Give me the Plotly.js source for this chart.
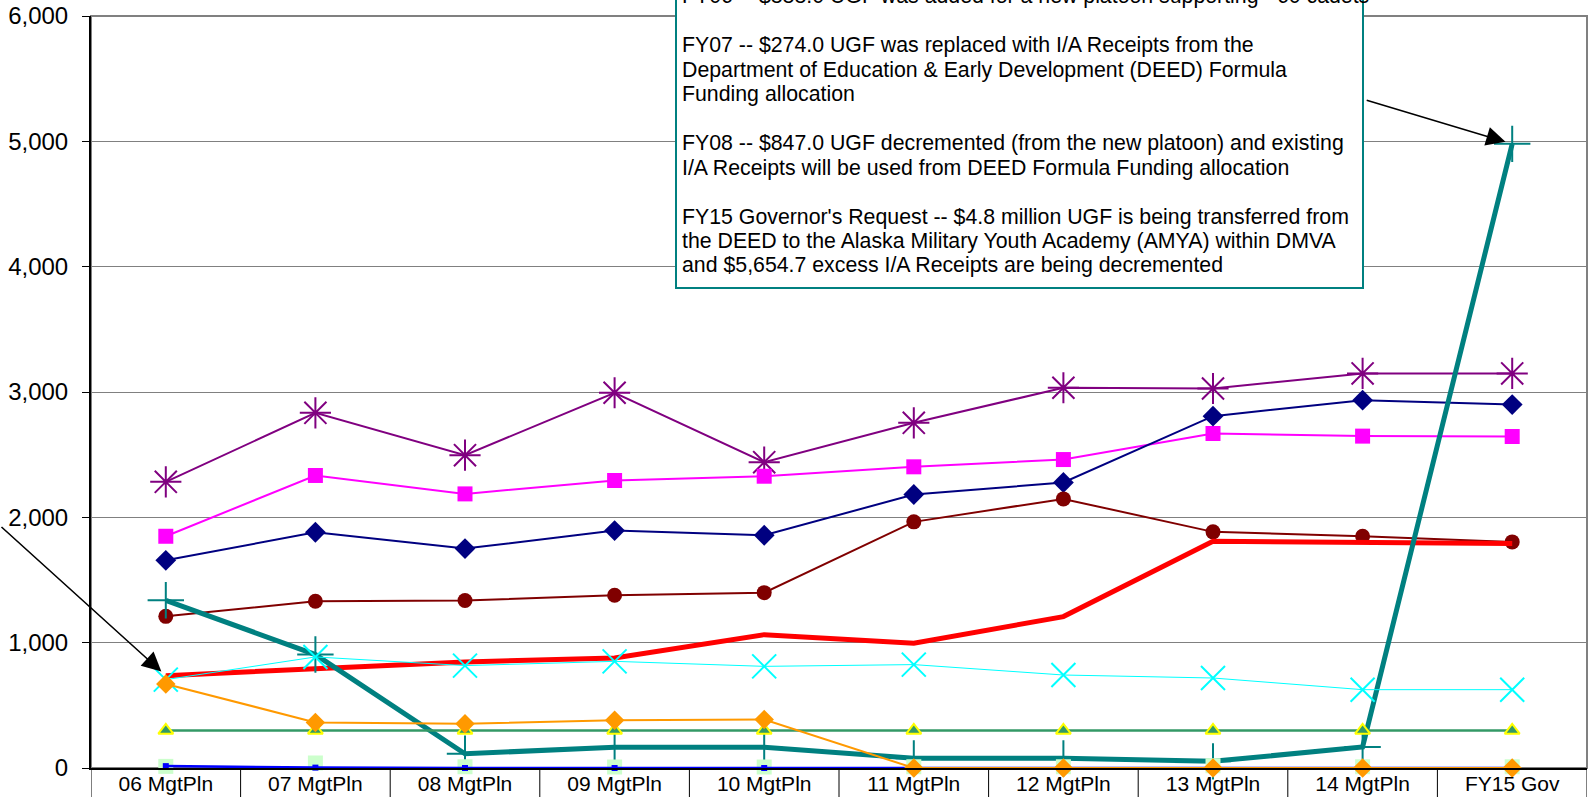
<!DOCTYPE html>
<html><head><meta charset="utf-8">
<script src="https://cdn.plot.ly/plotly-3.0.1.min.js"></script>
<style>html,body{margin:0;padding:0;background:#fff;overflow:hidden}#chart{width:1591px;height:797px}</style>
</head><body><div id="chart"></div><script>
const categories = ['06 MgtPln','07 MgtPln','08 MgtPln','09 MgtPln','10 MgtPln','11 MgtPln','12 MgtPln','13 MgtPln','14 MgtPln','FY15 Gov'];
const seriesPurple   = [2283, 2834, 2496, 2994, 2440, 2754, 3034, 3028, 3148, 3148];
const seriesMagenta  = [1849, 2334, 2187, 2294, 2328, 2403, 2461, 2669, 2648, 2645];
const seriesNavy     = [1657, 1881, 1751, 1894, 1857, 2182, 2278, 2807, 2935, 2900];
const seriesDarkRed  = [1210, 1330, 1336, 1378, 1399, 1964, 2147, 1884, 1849, 1804];
const seriesRed      = [737, 790, 846, 878, 1064, 995, 1208, 1809, 1796, 1791];
const seriesTeal     = [1338, 905, 114, 165, 165, 77, 77, 53, 168, 4980];
const seriesCyan     = [705, 886, 817, 851, 811, 825, 742, 718, 625, 625];
const seriesGreen    = [300, 300, 300, 300, 300, 300, 300, 300, 300, 300];
const seriesLightGreen = [13, 40, 10, 8, 8, 10, 10, 18, 10, 10];
const seriesBlue     = [15, 3, 0, 0, 0, 0, 0, 0, 0, 0];
const seriesOrange   = [670, 364, 354, 380, 386, 0, 0, 0, 0, 0];
const yTickValues = [0, 1000, 2000, 3000, 4000, 5000, 6000];
const noteLines = [
  'FY06 -- $888.0 UGF was added for a new platoon supporting ~60 cadets',
  '',
  'FY07 -- $274.0 UGF was replaced with I/A Receipts from the',
  'Department of Education &amp; Early Development (DEED) Formula',
  'Funding allocation',
  '',
  'FY08 -- $847.0 UGF decremented (from the new platoon) and existing',
  'I/A Receipts will be used from DEED Formula Funding allocation',
  '',
  "FY15 Governor's Request -- $4.8 million UGF is being transferred from",
  'the DEED to the Alaska Military Youth Academy (AMYA) within DMVA',
  'and $5,654.7 excess I/A Receipts are being decremented'
];

const W = 1591, H = 797;
const M = {l: 91, r: 4, t: 16, b: 29};
const plotH = H - M.t - M.b, plotW = W - M.l - M.r;
const px2paperY = y => (H - M.b - y) / plotH;
const px2paperX = x => (x - M.l) / plotW;
const FONT = 'Liberation Sans, Arial, sans-serif';

function tr(y, color, width, marker, extra) {
  return Object.assign({
    type: 'scatter', mode: 'lines+markers', x: categories, y: y,
    line: {color: color, width: width}, marker: marker, cliponaxis: false, hoverinfo: 'x+y'
  }, extra || {});
}

const traces = [
  tr(seriesPurple, '#800080', 2, {symbol: 'asterisk-open', size: 26, line: {color: '#800080', width: 2}}),
  tr(seriesMagenta, '#FF00FF', 2, {symbol: 'square', size: 15, color: '#FF00FF'}),
  tr(seriesNavy, '#000080', 2, {symbol: 'diamond', size: 16, color: '#000080'}),
  tr(seriesDarkRed, '#800000', 2, {symbol: 'circle', size: 15, color: '#800000'}),
  tr(seriesRed, '#FF0000', 5, {size: 1}, {mode: 'lines'}),
  tr(seriesTeal, '#008080', 5, {symbol: 'cross-thin-open', size: 26, line: {color: '#008080', width: 2}}),
  tr(seriesCyan, '#00FFFF', 1, {symbol: 'x-thin-open', size: 24, line: {color: '#00FFFF', width: 2}}),
  tr(seriesGreen, '#339966', 2.5, {symbol: 'triangle-up', size: 13, color: '#339966', line: {color: '#FFFF00', width: 2}}),
  tr(seriesLightGreen, '#CCFFCC', 0, {symbol: 'square', size: 15, color: '#CCFFCC'}, {mode: 'markers'}),
  tr(seriesBlue, '#0000FF', 2.5, {symbol: 'square', size: 6, color: '#0000FF'}),
  tr(seriesOrange, '#FF9900', 2, {symbol: 'diamond', size: 15, color: '#FF9900'})
];

const shapes = [
  {type: 'rect', xref: 'paper', yref: 'paper', x0: 0, x1: 1, y0: 0, y1: 1, line: {color: '#808080', width: 2}, layer: 'below'}
];
for (let i = 0; i <= categories.length; i++) {
  shapes.push({type: 'line', xref: 'x', yref: 'paper', x0: i - 0.5, x1: i - 0.5, y0: 0, y1: -0.06,
    line: {color: '#000000', width: 1}});
}
// note box
shapes.push({type: 'rect', xref: 'paper', yref: 'paper', layer: 'above',
  x0: px2paperX(676), x1: px2paperX(1363), y0: px2paperY(288), y1: px2paperY(-40),
  fillcolor: '#FFFFFF', line: {color: '#008080', width: 2}});

const annotations = [];
noteLines.forEach((t, k) => {
  if (!t) return;
  annotations.push({xref: 'paper', yref: 'paper', x: px2paperX(681), y: px2paperY(-3.5 + 24.45 * k),
    xanchor: 'left', yanchor: 'middle', align: 'left', showarrow: false, text: t,
    font: {family: FONT, size: 21.3, color: '#000'}, borderpad: 0});
});
annotations.push({xref: 'x', yref: 'y', x: categories[9], y: seriesTeal[9], text: '', showarrow: true,
  ax: -147, ay: -44, arrowhead: 2, arrowsize: 2.4, arrowwidth: 1.6, arrowcolor: '#000', standoff: 7});
annotations.push({xref: 'x', yref: 'y', x: categories[0], y: seriesRed[0], text: '', showarrow: true,
  ax: -186, ay: -150, arrowhead: 2, arrowsize: 2.4, arrowwidth: 1.6, arrowcolor: '#000', standoff: 6});

const layout = {
  width: W, height: H, margin: M, showlegend: false,
  paper_bgcolor: '#FFFFFF', plot_bgcolor: '#FFFFFF',
  font: {family: FONT, color: '#000'},
  xaxis: {type: 'category', range: [-0.5, 9.5], showgrid: false, zeroline: false,
    showline: true, linecolor: '#000', linewidth: 2, ticks: '', tickfont: {size: 21, family: FONT, color: '#000'},
    ticklabelstandoff: -4, fixedrange: true},
  yaxis: {range: [0, 6000], tickvals: yTickValues, tickformat: ',d', showgrid: true, gridcolor: '#808080', gridwidth: 1,
    zeroline: false, showline: true, linecolor: '#000', linewidth: 2, ticks: 'outside', ticklen: 7, tickcolor: '#000',
    tickfont: {size: 24, family: FONT, color: '#000'}, ticklabelstandoff: 9, fixedrange: true},
  shapes: shapes, annotations: annotations
};
Plotly.newPlot('chart', traces, layout, {displayModeBar: false, staticPlot: true});
</script></body></html>
